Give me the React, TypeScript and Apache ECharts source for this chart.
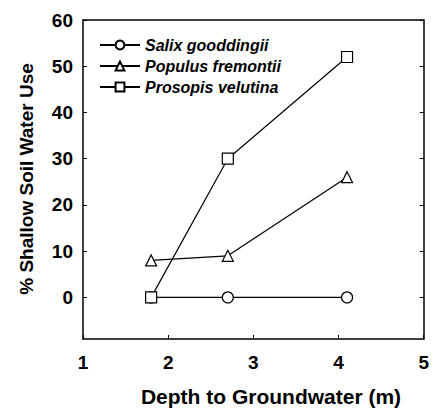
import React, { useEffect, useRef } from "react";
import * as echarts from "echarts";

const depths = [1.8, 2.7, 4.1];
const salix = [0, 0, 0];
const populus = [8, 9, 26];
const prosopis = [0, 30, 52];
const seriesNames = ["Salix gooddingii", "Populus fremontii", "Prosopis velutina"];
const yTicks = [0, 10, 20, 30, 40, 50, 60];
const xTitle = "Depth to Groundwater (m)";
const yTitle = "% Shallow Soil Water Use";

export default function App() {
  const ref = useRef<HTMLDivElement>(null);
  useEffect(() => {
    document.body.style.margin = "0";
    if (!ref.current) return;
    const chart = echarts.init(ref.current, null, { renderer: "svg" });
    const font = "Liberation Sans, Arial, sans-serif";
    const pair = (vals: number[]) => depths.map((d, i) => [d, vals[i]]);
    const mk = (name: string, vals: number[], symbol: string, size: number) => ({
      name,
      type: "line",
      data: pair(vals),
      symbol,
      symbolSize: size,
      showAllSymbol: true,
      lineStyle: { color: "#000", width: 1.2 },
      itemStyle: { color: "#fff", borderColor: "#000", borderWidth: 1.2 },
      z: 3,
    });
    const frame = { show: true, onZero: false, lineStyle: { color: "#000", width: 1.5 } };
    chart.setOption({
      animation: false,
      backgroundColor: "#fff",
      grid: { left: 83, top: 20, right: 3, bottom: 69 },
      legend: {
        orient: "vertical",
        left: 94,
        top: 32,
        itemWidth: 40,
        itemHeight: 11,
        itemGap: 5,
        data: seriesNames,
        textStyle: {
          fontFamily: font,
          fontStyle: "italic",
          fontWeight: "bold",
          fontSize: 16,
          color: "#000",
        },
      },
      xAxis: [
        {
          type: "value",
          min: 1,
          max: 5,
          interval: 1,
          position: "bottom",
          axisLine: frame,
          axisTick: { inside: true, length: 4, lineStyle: { color: "#000" } },
          axisLabel: {
            margin: 14,
            fontFamily: font,
            fontWeight: "bold",
            fontSize: 19,
            color: "#000",
          },
          splitLine: { show: false },
        },
        {
          type: "value",
          min: 1,
          max: 5,
          position: "top",
          axisLine: frame,
          axisTick: { show: false },
          axisLabel: { show: false },
          splitLine: { show: false },
        },
      ],
      yAxis: [
        {
          type: "value",
          min: -9,
          max: 60,
          position: "left",
          axisLine: frame,
          axisTick: { inside: true, length: 4, customValues: yTicks, lineStyle: { color: "#000" } },
          axisLabel: {
            customValues: yTicks,
            margin: 10,
            fontFamily: font,
            fontWeight: "bold",
            fontSize: 19,
            color: "#000",
          },
          splitLine: { show: false },
        },
        {
          type: "value",
          min: -9,
          max: 60,
          position: "right",
          axisLine: frame,
          axisTick: { show: true, inside: true, length: 4, customValues: yTicks, lineStyle: { color: "#000" } },
          axisLabel: { show: false },
          splitLine: { show: false },
        },
      ],
      graphic: [
        {
          type: "text",
          x: 271,
          y: 396,
          style: {
            text: xTitle,
            font: `bold 21px ${font}`,
            fill: "#000",
            align: "center",
            verticalAlign: "middle",
          },
        },
        {
          type: "text",
          x: 26,
          y: 179,
          rotation: Math.PI / 2,
          style: {
            text: yTitle,
            font: `bold 19px ${font}`,
            fill: "#000",
            align: "center",
            verticalAlign: "middle",
          },
        },
      ],
      series: [
        mk(seriesNames[0], salix, "circle", 11),
        mk(seriesNames[1], populus, "triangle", 11),
        mk(seriesNames[2], prosopis, "rect", 11),
      ],
    });
    return () => chart.dispose();
  }, []);
  return <div ref={ref} style={{ width: 432, height: 408 }} />;
}
